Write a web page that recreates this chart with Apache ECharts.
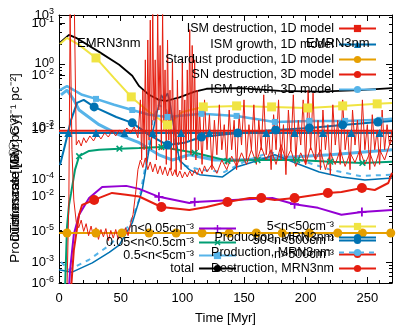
<!DOCTYPE html>
<html><head><meta charset="utf-8">
<script src="https://cdn.jsdelivr.net/npm/echarts@6/dist/echarts.min.js"></script>
<style>html,body{margin:0;padding:0;background:#fff}#c{width:415px;height:332px}</style>
</head><body><div id="c"></div>
<script>
const FF = '"Liberation Sans", Arial, Helvetica, sans-serif';

// ---------------- data (Time [Myr], rate) ----------------
const tTotal = [0.8, 8.1, 13.8, 32.5, 48.8, 59.4, 65, 73, 81, 87, 97.6, 110, 119.6, 146, 179, 211, 244, 270];
const vTotal = [2.1, 2.75, 2.48, 1.52, 0.97, 0.66, 0.46, 0.34, 0.285, 0.275, 0.31, 0.38, 0.42, 0.43, 0.39, 0.38, 0.40, 0.43];

const tN5to50 = [0.8, 6.5, 16.3, 30, 44.7, 58.6, 73, 88, 100, 117, 144, 172.4, 201.7, 230, 258, 270];
const vN5to50 = [2.0, 2.48, 1.94, 1.23, 0.61, 0.316, 0.187, 0.119, 0.187, 0.223, 0.231, 0.223, 0.215, 0.231, 0.248, 0.256];
const mN5to50 = [0,0,0,1,0,1,0,1,0,1,1,1,1,1,1,0];

const tN05to5 = [0.8, 6.5, 18.7, 30, 44.7, 59.4, 73, 88, 115.5, 144, 175, 203, 232, 260, 270];
const vN05to5 = [0.40, 0.46, 0.34, 0.295, 0.24, 0.20, 0.17, 0.157, 0.175, 0.163, 0.132, 0.137, 0.137, 0.142, 0.147];
const mN05to5 = [0,0,0,1,0,1,0,1,1,1,1,1,1,1,0];

const tGrowth3D = [1.6, 6.5, 12, 16.3, 32.5, 48.8, 65, 81, 92, 105.7, 126, 146, 175, 220, 270];
const vGrowth3D = [0.34, 0.40, 0.285, 0.20, 0.12, 0.084, 0.064, 0.042, 0.035, 0.042, 0.035, 0.035, 0.0377, 0.042, 0.050];

const tProdB = [1.6, 8, 24, 41, 57, 65, 71, 76, 81, 87, 93.5, 99, 114, 134, 150, 171, 195, 220, 244, 270];
const vProdB = [0.001, 0.00076, 0.00107, 0.0018, 0.0036, 0.0087, 0.035, 0.142, 0.24, 0.20, 0.070, 0.030, 0.025, 0.023, 0.0327, 0.046, 0.035, 0.025, 0.020, 0.021];

const tProdA = [0, 10.6, 27, 40.7, 48.8, 59.4, 67.5, 73, 79, 83, 85, 88, 90, 93.5, 97.6, 105.7, 114, 132.6, 144, 162.6, 175, 195, 211, 229, 248, 270];
const vProdA = [0.00076, 0.0007, 0.00097, 0.0014, 0.0018, 0.0039, 0.0123, 0.050, 0.17, 0.34, 0.285, 0.36, 0.256, 0.10, 0.035, 0.025, 0.021, 0.0194, 0.0275, 0.035, 0.042, 0.030, 0.023, 0.0194, 0.0175, 0.0187];

const tN50to500 = [0.8, 4.9, 9.8, 14.6, 20, 28.5, 46.4, 59.4, 73, 88, 101.7, 115.5, 145, 175.7, 203, 230, 258.6, 270];
const vN50to500 = [0.0295, 0.059, 0.142, 0.256, 0.285, 0.223, 0.157, 0.128, 0.084, 0.059, 0.064, 0.078, 0.090, 0.10, 0.107, 0.119, 0.132, 0.137];
const mN50to500 = [0,0,0,0,0,1,0,1,0,1,0,1,1,1,1,1,1,0];

const tN005to05 = [4.9, 6.5, 8.1, 9.8, 13, 16.3, 24.4, 32.5, 49, 65, 83, 110, 136.6, 161, 193, 220, 246, 270];
const vN005to05 = [0.0004, 0.0034, 0.0073, 0.011, 0.025, 0.040, 0.048, 0.050, 0.052, 0.053, 0.055, 0.045, 0.034, 0.035, 0.035, 0.033, 0.0316, 0.033];
const mN005to05 = [0,0,0,0,0,1,0,0,1,0,1,1,1,1,1,1,1,0];

const tN005 = [8.1, 9, 12, 16.3, 24.4, 35, 54.5, 65, 81, 105.7, 110, 141, 173, 191, 210, 229, 245.6, 270];
const vN005 = [0.0004, 0.00076, 0.0026, 0.0052, 0.0093, 0.0137, 0.0142, 0.0128, 0.0097, 0.0078, 0.0081, 0.0087, 0.0093, 0.0075, 0.0066, 0.0052, 0.0057, 0.0061];
const mN005 = [0,0,0,0,0,0,0,0,1,0,1,0,0,1,0,0,1,0];

const tN500 = [9.8, 12, 16.3, 18.7, 28.5, 43, 54.5, 65, 83, 105.7, 119.6, 136.6, 154.5, 164, 175, 191, 218, 229, 245.6, 256, 267, 270];
const vN500 = [0.0004, 0.0015, 0.0052, 0.0073, 0.0087, 0.0111, 0.0104, 0.0098, 0.0068, 0.0061, 0.0068, 0.0081, 0.0093, 0.0093, 0.0087, 0.0093, 0.0111, 0.0115, 0.0132, 0.0123, 0.0157, 0.0223];
const mN500 = [0,0,0,0,1,0,0,0,1,0,0,1,0,1,0,1,1,0,1,0,0,0];

const tStardust = [0, 6.5, 30, 51, 73, 95, 116, 138, 160, 181, 203, 226, 246, 269, 270];
const vStardust = [0.00275, 0.00275, 0.00275, 0.00275, 0.00275, 0.00275, 0.00275, 0.00275, 0.00275, 0.00275, 0.00275, 0.00275, 0.00275, 0.00275, 0.00275];
const mStardust = [0,1,1,1,1,1,1,1,1,1,1,1,1,1,0];

const tIsmDest1D = [0, 270];
const vIsmDest1D = [0.097, 0.097];

const tIsmGrow1D = [0, 7.5, 30, 53, 76, 99, 122, 145, 168, 191, 214, 237, 260, 270];
const vIsmGrow1D = [0.090, 0.090, 0.090, 0.090, 0.090, 0.090, 0.090, 0.090, 0.090, 0.090, 0.090, 0.090, 0.090, 0.090];
const mIsmGrow1D = [0,1,1,1,1,1,1,1,1,1,1,1,1,0];

const tDestMRN = [6.5, 8, 9, 9.8, 10.5, 12, 14, 16, 18, 20, 22, 24, 26, 28, 30, 32, 34, 36, 38, 40, 42, 44, 46, 48, 50, 52, 54, 56, 58, 60, 62, 64, 66, 68, 70, 72, 74, 76, 78, 80, 82, 84, 86, 88, 90, 92, 94, 96, 98, 100, 102, 104, 106, 108, 110, 112, 114, 116, 118, 120, 124, 128, 132, 136, 140, 144, 148, 152, 156, 160, 164, 168, 172, 176, 180, 184, 188, 192, 196, 200, 204, 208, 212, 216, 220, 224, 228, 232, 236, 240, 244, 248, 252, 256, 260, 264, 268, 270];
const vDestMRN = [0.0004, 0.0087, 6, 6, 0.05, 0.0087, 0.0040, 0.0033, 0.0043, 0.0029, 0.0038, 0.0025, 0.0035, 0.0024, 0.0033, 0.0022, 0.0031, 0.0024, 0.0032, 0.0021, 0.0030, 0.0023, 0.0031, 0.0022, 0.0029, 0.0024, 0.0033, 0.0025, 0.0038, 0.0052, 0.0104, 0.025, 0.035, 0.027, 0.0377, 0.025, 0.0327, 0.0231, 0.0305, 0.0216, 0.0285, 0.021, 0.0275, 0.0201, 0.0266, 0.0201, 0.025, 0.0194, 0.0239, 0.0187, 0.0231, 0.0194, 0.0239, 0.0201, 0.025, 0.021, 0.0266, 0.0216, 0.0285, 0.0231, 0.030, 0.022, 0.035, 0.025, 0.04, 0.028, 0.045, 0.03, 0.05, 0.032, 0.055, 0.035, 0.05, 0.03, 0.06, 0.035, 0.05, 0.028, 0.045, 0.03, 0.055, 0.035, 0.05, 0.025, 0.045, 0.03, 0.05, 0.028, 0.045, 0.032, 0.05, 0.03, 0.045, 0.028, 0.05, 0.035, 0.06, 0.07];

const tSnDest3D = [12.5, 14, 16, 18, 20, 22, 25, 28, 31, 34, 37, 40, 43, 46, 49, 52, 55, 58, 61, 64, 66, 67, 68, 69, 70, 71, 72, 73, 74, 75, 76, 77, 78, 79, 80, 81, 82, 83, 84, 85, 86, 87, 88, 89, 90, 91, 92, 93, 94, 95, 96, 97, 98, 99, 100, 101, 102, 103, 104, 105, 106, 107, 108, 109, 110, 111, 112, 113, 114, 116, 118, 120, 122, 124, 126, 128, 130, 132, 134, 136, 138, 140, 142, 144, 146, 148, 150, 152, 154, 156, 158, 160, 162, 164, 166, 168, 170, 172, 174, 176, 178, 180, 182, 184, 186, 188, 190, 192, 194, 196, 198, 200, 202, 204, 206, 208, 210, 212, 214, 216, 218, 220, 222, 224, 226, 228, 230, 232, 234, 236, 238, 240, 242, 244, 246, 248, 250, 252, 254, 256, 258, 260, 262, 264, 266, 268, 270];
const vSnDest3D = [6, 0.059, 0.070, 0.057, 0.076, 0.064, 0.081, 0.068, 0.087, 0.073, 0.090, 0.078, 0.097, 0.081, 0.10, 0.087, 0.107, 0.090, 0.111, 0.076, 0.285, 0.035, 0.40, 0.050, 1.15, 0.030, 2.3, 0.070, 4.6, 0.050, 6, 0.14, 1.15, 0.035, 6, 0.20, 1.9, 0.050, 6, 0.10, 0.81, 0.030, 2.3, 0.070, 0.40, 0.025, 1.15, 0.050, 0.285, 0.021, 0.57, 0.059, 0.20, 0.025, 1.15, 0.050, 0.285, 0.035, 0.81, 0.070, 3.3, 0.042, 1.9, 0.10, 1.15, 0.035, 0.40, 0.050, 0.20, 0.030, 0.285, 0.050, 0.17, 0.025, 0.14, 0.042, 0.24, 0.050, 0.12, 0.030, 0.20, 0.050, 0.14, 0.025, 0.17, 0.059, 0.285, 0.035, 0.12, 0.050, 0.24, 0.030, 0.14, 0.050, 0.34, 0.042, 0.10, 0.025, 0.17, 0.050, 0.285, 0.035, 0.12, 0.021, 0.20, 0.050, 0.34, 0.035, 0.14, 0.059, 0.285, 0.030, 0.40, 0.050, 0.36, 0.035, 0.14, 0.025, 0.20, 0.050, 0.12, 0.021, 0.24, 0.059, 0.14, 0.030, 0.285, 0.050, 0.10, 0.025, 0.20, 0.059, 0.14, 0.035, 0.285, 0.050, 0.12, 0.025, 0.17, 0.050, 0.10, 0.030, 0.20, 0.050, 0.12, 0.059, 0.10];

// axis tick labels (exponents of 10)
const majorExpA = [-3, -2, -1, 0];
const majorExpB = [-6, -5, -4, -3, -2, -1];
const majorExpC = [3];

// ---------------- chart ----------------
const YMIN = 0.00048, YMAX = 5.5;
const BMIN = 1e-6, BMAX = Math.pow(10, -0.846);
const CMIN = Math.pow(10, 2.05), CMAX = 1000;

const C = { red:'#e51e10', dblue:'#0072b2', lblue:'#56b4e9', orange:'#e69f00', green:'#009e73', purple:'#9400d3', yellow:'#f0e442', black:'#000000' };
const PLUS = 'path://M4,0H6V4H10V6H6V10H4V6H0V4H4Z';

function pts(ts, vs, marks) {
  return ts.map((t, i) => (marks && !marks[i]) ? { value: [t, vs[i]], symbol: 'none' } : [t, vs[i]]);
}
function line(name, ts, vs, marks, color, width, symbol, size, extra) {
  return Object.assign({
    type: 'line', name, data: pts(ts, vs, marks || ts.map(() => 0)),
    xAxisIndex: 0, yAxisIndex: 0,
    symbol: symbol || 'none', symbolSize: size || 8, showSymbol: true,
    lineStyle: { color, width }, itemStyle: { color },
    clip: true, silent: true, z: 2
  }, extra || {});
}

const sup = v => '{b|10}{s|' + v + '}';
function sciFmt(v) {
  const e = Math.log10(v), r = Math.round(e);
  if (Math.abs(e - r) > 1e-6) return '';
  return sup(r);
}
const rich = {
  b: { fontSize: 13, fontFamily: FF, color: '#000' },
  s: { fontSize: 9, fontFamily: FF, color: '#000', padding: [0, 0, 7, 0] }
};
const majA = majorExpA.map(e => Math.pow(10, e));
const minA = [];
for (let d = -4; d <= 0; d++) for (let m = 2; m <= 9; m++) { const v = m * Math.pow(10, d); if (v > YMIN && v < YMAX) minA.push(v); }

function yLog(min, max, pos, tickVals, tickLen, showLabel, labelVals, showLine) {
  const ax = {
    type: 'log', min, max, position: pos, gridIndex: 0,
    axisLine: { show: !!showLine, lineStyle: { color: '#000', width: 1 } },
    axisTick: { show: tickLen > 0, inside: true, length: tickLen, lineStyle: { color: '#000', width: 1 } },
    axisLabel: { show: !!showLabel, formatter: sciFmt, rich, margin: 5, color: '#000' },
    splitLine: { show: false }, minorTick: { show: false }
  };
  if (tickVals) ax.axisTick.customValues = tickVals;
  if (labelVals) ax.axisLabel.customValues = labelVals;
  return ax;
}

const legendDefs = [
  ['ISM destruction, 1D model', 38, 29], ['ISM growth, 1D model', 38, 45], ['Stardust production, 1D model', 38, 60],
  ['SN destruction, 3D model', 38, 75], ['ISM growth, 3D model', 38, 90],
  ['n<0.05cm⁻³', 178, 229], ['0.05<n<0.5cm⁻³', 178, 243], ['0.5<n<5cm⁻³', 178, 256], ['total', 178, 269],
  ['5<n<50cm⁻³', 38, 227], ['50<n<500cm⁻³', 38, 241], ['n>500cm⁻³', 38, 255],
  ['Production, MRN3nm', 38, 238], ['Production, MRN3nm ', 38, 253], ['Destruction, MRN3nm', 38, 269]
];
const legends = legendDefs.map(([name, right, cy]) => ({
  data: [name], orient: 'vertical', right, top: cy - 7, align: 'right',
  itemWidth: 37, itemHeight: 9, itemGap: 0, padding: 0, selectedMode: false,
  textStyle: { fontSize: 12.5, fontFamily: FF, color: '#000' }
}));

const series = [
  line('total', tTotal, vTotal, null, C.black, 1.8),
  line('5<n<50cm⁻³', tN5to50, vN5to50, mN5to50, C.yellow, 2, 'rect', 9),
  line('0.5<n<5cm⁻³', tN05to5, vN05to5, mN05to5, C.lblue, 2.5, 'rect', 6),
  line('ISM growth, 3D model', tGrowth3D, vGrowth3D, null, C.lblue, 3),
  line('Production, MRN3nm ', tProdB, vProdB, null, C.lblue, 2, 'none', 8, { lineStyle: { color: C.lblue, width: 2, type: [5, 5] } }),
  line('Production, MRN3nm', tProdA, vProdA, null, C.dblue, 1.5),
  line('50<n<500cm⁻³', tN50to500, vN50to500, mN50to500, C.dblue, 2, 'circle', 9),
  line('0.05<n<0.5cm⁻³', tN005to05, vN005to05, mN005to05, C.green, 2, PLUS, 8, { symbolRotate: 45 }),
  line('n<0.05cm⁻³', tN005, vN005, mN005, C.purple, 2, PLUS, 9),
  line('n>500cm⁻³', tN500, vN500, mN500, C.red, 2, 'circle', 10),
  line('Stardust production, 1D model', tStardust, vStardust, mStardust, C.orange, 2, 'circle', 9),
  line('ISM destruction, 1D model', tIsmDest1D, vIsmDest1D, null, C.red, 2, 'rect', 8),
  line('ISM growth, 1D model', tIsmGrow1D, vIsmGrow1D, mIsmGrow1D, C.dblue, 2, 'triangle', 8),
  line('Destruction, MRN3nm', tDestMRN, vDestMRN, null, C.red, 1),
  line('SN destruction, 3D model', tSnDest3D, vSnDest3D, null, C.red, 1)
];

const xBase = {
  type: 'value', min: 0, max: 270, interval: 50, gridIndex: 0,
  axisLine: { show: true, lineStyle: { color: '#000', width: 1 } },
  axisTick: { show: true, inside: true, length: 6, lineStyle: { color: '#000' } },
  minorTick: { show: true, splitNumber: 5, length: 3, lineStyle: { color: '#000' } },
  splitLine: { show: false }
};

const option = {
  animation: false,
  backgroundColor: '#fff',
  grid: { left: 59, right: 23, top: 15, bottom: 49, outerBoundsMode: 'none', containLabel: false },
  xAxis: [
    Object.assign({}, xBase, { position: 'bottom',
      axisLabel: { show: true, fontSize: 13, fontFamily: FF, color: '#000', margin: 9, showMaxLabel: false },
      name: 'Time [Myr]', nameLocation: 'middle', nameGap: 29,
      nameTextStyle: { fontSize: 13, fontFamily: FF, color: '#000' } }),
    Object.assign({}, xBase, { position: 'top', axisLabel: { show: false } })
  ],
  yAxis: [
    yLog(YMIN, YMAX, 'left', majA, 6, true, majA, true),
    yLog(YMIN, YMAX, 'left', minA, 3, false, null, false),
    yLog(YMIN, YMAX, 'right', majA, 6, false, null, true),
    yLog(YMIN, YMAX, 'right', minA, 3, false, null, false),
    yLog(BMIN, BMAX, 'left', majorExpB.map(e => Math.pow(10, e)), 6, true, majorExpB.map(e => Math.pow(10, e)), false),
    yLog(CMIN, CMAX, 'left', null, 0, true, majorExpC.map(e => Math.pow(10, e)), false)
  ],
  legend: legends,
  series,
  graphic: [
    { type: 'text', x: 15, y: 168, rotation: Math.PI / 2, z: 100,
      style: { text: 'Production rate [M☉ Gyr⁻¹ pc⁻²]', font: '13.5px ' + FF, fill: '#000', textAlign: 'center', textVerticalAlign: 'middle' } },
    { type: 'text', x: 15, y: 178, rotation: Math.PI / 2, z: 100,
      style: { text: 'Dust mass [M☉ pc⁻²]', font: '13.5px ' + FF, fill: '#000', textAlign: 'center', textVerticalAlign: 'middle' } },
    { type: 'text', x: 15, y: 186, rotation: Math.PI / 2, z: 100,
      style: { text: 'Timescale [Gyr]', font: '13.5px ' + FF, fill: '#000', textAlign: 'center', textVerticalAlign: 'middle' } },
    { type: 'text', x: 77, y: 43, z: 100,
      style: { text: 'EMRN3nm', font: '13px ' + FF, fill: '#000', textVerticalAlign: 'middle' } },
    { type: 'text', x: 306, y: 43, z: 100,
      style: { text: 'EMRN3nm', font: '13px ' + FF, fill: '#000', textVerticalAlign: 'middle' } }
  ]
};

const chart = echarts.init(document.getElementById('c'), null, { renderer: 'canvas' });
chart.setOption(option);
</script></body></html>
